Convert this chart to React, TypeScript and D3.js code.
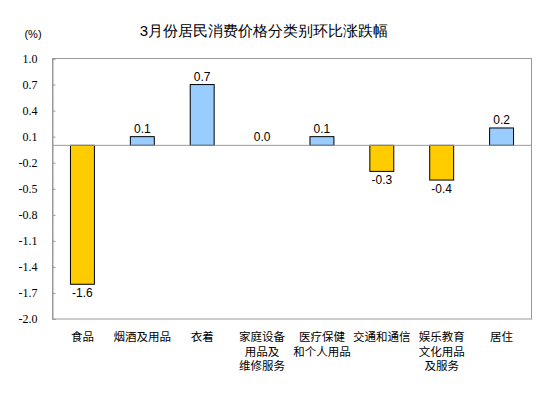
import React, { useEffect, useRef } from 'react';
import * as d3 from 'd3';

// categories (multi-line labels as in the source)
const categories: string[][] = [
  ['食品'],
  ['烟酒及用品'],
  ['衣着'],
  ['家庭设备', '用品及', '维修服务'],
  ['医疗保健', '和个人用品'],
  ['交通和通信'],
  ['娱乐教育', '文化用品', '及服务'],
  ['居住'],
];
const values: number[] = [-1.6, 0.1, 0.7, 0.0, 0.1, -0.3, -0.4, 0.2];
const yTicks: number[] = [1.0, 0.7, 0.4, 0.1, -0.2, -0.5, -0.8, -1.1, -1.4, -1.7, -2.0];

// plain hyphen instead of the unicode minus d3 uses
const fmt = (v: number) => d3.format('.1f')(v).replace('\u2212', '-');

const App: React.FC = () => {
  const svgRef = useRef<SVGSVGElement>(null);

  useEffect(() => {
    if (!svgRef.current) return;

    const width = 554;
    const height = 398;
    const margin = { top: 58.5, right: 22.5, bottom: 79, left: 52.5 };

    const svg = d3.select(svgRef.current)
                  .attr('width', width)
                  .attr('height', height);

    svg.selectAll('*').remove();

    const keys = categories.map((_, i) => String(i));

    const x = d3.scaleBand()
                .domain(keys)
                .range([margin.left, width - margin.right])
                .paddingInner(0.6)
                .paddingOuter(0.3);

    const y = d3.scaleLinear()
                .domain([-2.0, 1.0])
                .range([height - margin.bottom, margin.top]);

    // title
    svg.append('text')
       .attr('x', 264)
       .attr('y', 36)
       .attr('text-anchor', 'middle')
       .attr('font-family', 'Liberation Sans, Arial, sans-serif')
       .attr('font-size', 15)
       .attr('fill', '#000')
       .text('3月份居民消费价格分类别环比涨跌幅');

    svg.append('text')
       .attr('x', 33)
       .attr('y', 38)
       .attr('text-anchor', 'middle')
       .attr('font-family', 'Liberation Sans, Arial, sans-serif')
       .attr('font-size', 11)
       .attr('fill', '#000')
       .text('(%)');

    // frame
    svg.append('rect')
       .attr('x', margin.left)
       .attr('y', margin.top)
       .attr('width', width - margin.left - margin.right)
       .attr('height', height - margin.top - margin.bottom)
       .attr('fill', 'none')
       .attr('stroke', '#999');

    // left axis (inward ticks)
    const yAxis = svg.append('g')
       .attr('transform', `translate(${margin.left},0)`)
       .call(d3.axisLeft(y).tickValues(yTicks).tickSize(-3).tickPadding(15)
               .tickFormat(d => fmt(d as number)));
    yAxis.select('.domain').attr('stroke', '#999');
    yAxis.selectAll('.tick line').attr('stroke', '#999');
    yAxis.selectAll('.tick text')
         .attr('font-family', 'Liberation Serif, Times New Roman, serif')
         .attr('font-size', 12)
         .attr('fill', '#000');

    // bars
    svg.append('g')
       .selectAll('rect')
       .data(values)
       .join('rect')
         .attr('x', (_, i) => x(keys[i])!)
         .attr('y', d => y(Math.max(0, d)))
         .attr('width', x.bandwidth())
         .attr('height', d => Math.abs(y(d) - y(0)))
         .attr('fill', d => (d < 0 ? '#FFCC00' : '#99CCFF'))
         .attr('stroke', d => (d === 0 ? 'none' : '#000'))
         .attr('stroke-width', 1);

    // zero line
    svg.append('line')
       .attr('x1', margin.left)
       .attr('x2', width - margin.right)
       .attr('y1', y(0))
       .attr('y2', y(0))
       .attr('stroke', '#999');

    // value labels
    svg.append('g')
       .selectAll('text')
       .data(values)
       .join('text')
         .attr('x', (_, i) => x(keys[i])! + x.bandwidth() / 2)
         .attr('y', d => (d < 0 ? y(d) + 13 : y(d) - 4))
         .attr('text-anchor', 'middle')
         .attr('font-family', 'Liberation Sans, Arial, sans-serif')
         .attr('font-size', 12)
         .attr('fill', '#000')
         .text(d => fmt(d));

    // category labels
    const cat = svg.append('g')
       .selectAll('text')
       .data(categories)
       .join('text')
         .attr('x', (_, i) => x(keys[i])! + x.bandwidth() / 2)
         .attr('y', 341)
         .attr('text-anchor', 'middle')
         .attr('font-family', 'Noto Sans CJK SC, sans-serif')
         .attr('font-size', 11.5)
         .attr('fill', '#000');
    cat.selectAll('tspan')
       .data(d => d)
       .join('tspan')
         .attr('x', function () {
           return (this as SVGTSpanElement).parentElement!.getAttribute('x');
         })
         .attr('dy', (_, j) => (j === 0 ? 0 : 14.5))
         .text(d => d);
  }, []);

  return <svg ref={svgRef} style={{ display: 'block', position: 'absolute', left: 0, top: 0 }}></svg>;
};

export default App;
